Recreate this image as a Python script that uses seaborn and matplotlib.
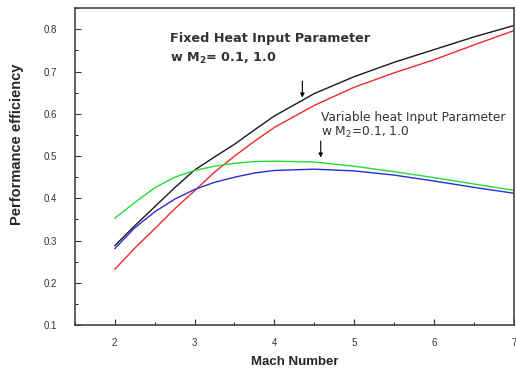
import pandas as pd
import matplotlib.pyplot as plt
import seaborn as sns
from matplotlib.ticker import MultipleLocator

machNumber = [2.0, 2.25, 2.5, 2.75, 3.0, 3.25, 3.5, 3.75, 4.0, 4.5, 5.0, 5.5, 6.0, 6.5, 7.0]

fixedLow = [0.288, 0.335, 0.380, 0.425, 0.467, 0.498, 0.528, 0.562, 0.595,
            0.648, 0.688, 0.722, 0.752, 0.782, 0.809]
fixedHigh = [0.232, 0.282, 0.328, 0.375, 0.418, 0.462, 0.500, 0.535, 0.568,
             0.620, 0.663, 0.697, 0.728, 0.763, 0.797]
variableLow = [0.353, 0.390, 0.425, 0.450, 0.466, 0.476, 0.483, 0.487, 0.488,
               0.486, 0.476, 0.463, 0.449, 0.434, 0.419]
variableHigh = [0.281, 0.330, 0.368, 0.398, 0.421, 0.438, 0.450, 0.460, 0.466,
                0.469, 0.465, 0.455, 0.441, 0.426, 0.412]

seriesNames = ["fixedLow", "fixedHigh", "variableLow", "variableHigh"]
seriesColors = {
    "fixedLow": "#1a1a1a",
    "fixedHigh": "#ee2a2a",
    "variableLow": "#22dd33",
    "variableHigh": "#2b2bd8",
}


def buildFrame() -> pd.DataFrame:
    allValues = [fixedLow, fixedHigh, variableLow, variableHigh]
    frames = []
    for outName, outValues in zip(seriesNames, allValues):
        frames.append(pd.DataFrame({"Mach": machNumber, "Efficiency": outValues, "Series": outName}))
    return pd.concat(frames, ignore_index=True)


sns.set_style("white")
plt.rcParams["font.family"] = ["Liberation Sans", "DejaVu Sans"]

fig = plt.figure(figsize=(5.16, 3.72), dpi=100)
ax = fig.add_axes([0.145, 0.126, 0.851, 0.852])

sns.lineplot(
    data=buildFrame(), x="Mach", y="Efficiency", hue="Series",
    hue_order=seriesNames, palette=seriesColors, linewidth=1.0,
    legend=False, ax=ax,
)

ax.set_xlim(1.5, 7.0)
ax.set_ylim(0.1, 0.85)
ax.xaxis.set_major_locator(MultipleLocator(1))
ax.xaxis.set_minor_locator(MultipleLocator(0.5))
ax.yaxis.set_major_locator(MultipleLocator(0.1))
ax.yaxis.set_minor_locator(MultipleLocator(0.05))
ax.set_xticks([2, 3, 4, 5, 6, 7])
ax.tick_params(which="major", direction="in", length=4, width=0.8, labelsize=7, colors="#333333")
ax.tick_params(axis="y", which="major", pad=13)
ax.tick_params(axis="x", which="major", pad=9)
ax.tick_params(which="minor", direction="in", length=2, width=0.8)
ax.tick_params(axis="x", which="both", bottom=True)
ax.tick_params(axis="y", which="both", left=True)
for outSpine in ax.spines.values():
    outSpine.set_color("#444444")
    outSpine.set_linewidth(1.2)

ax.set_xlabel("Mach Number", fontsize=9.5, fontweight="bold", labelpad=6)
ax.set_ylabel("Performance efficiency", fontsize=10.5, fontweight="bold")
ax.yaxis.set_label_coords(-0.115, 0.57)

# annotation text, DejaVu is wider and closer to the spaced-out look of the original
annotFont = ["DejaVu Sans"]
ax.text(2.69, 0.77, "Fixed Heat Input Parameter", fontsize=9.2, fontweight="bold",
        color="#333333", family=annotFont)
ax.text(2.69, 0.722, "w M$_\\mathbf{2}$= 0.1, 1.0", fontsize=9.2, fontweight="bold",
        color="#333333", family=annotFont)
ax.annotate("", xy=(4.35, 0.632), xytext=(4.35, 0.684),
            arrowprops=dict(arrowstyle="-|>", color="black", lw=0.8, mutation_scale=6))

ax.text(4.58, 0.583, "Variable heat Input Parameter", fontsize=8.8,
        color="#333333", family=annotFont)
ax.text(4.58, 0.548, "w M$_2$=0.1, 1.0", fontsize=8.8, color="#333333", family=annotFont)
ax.annotate("", xy=(4.58, 0.49), xytext=(4.58, 0.542),
            arrowprops=dict(arrowstyle="-|>", color="black", lw=0.8, mutation_scale=6))

fig.savefig("out.png", dpi=100)
